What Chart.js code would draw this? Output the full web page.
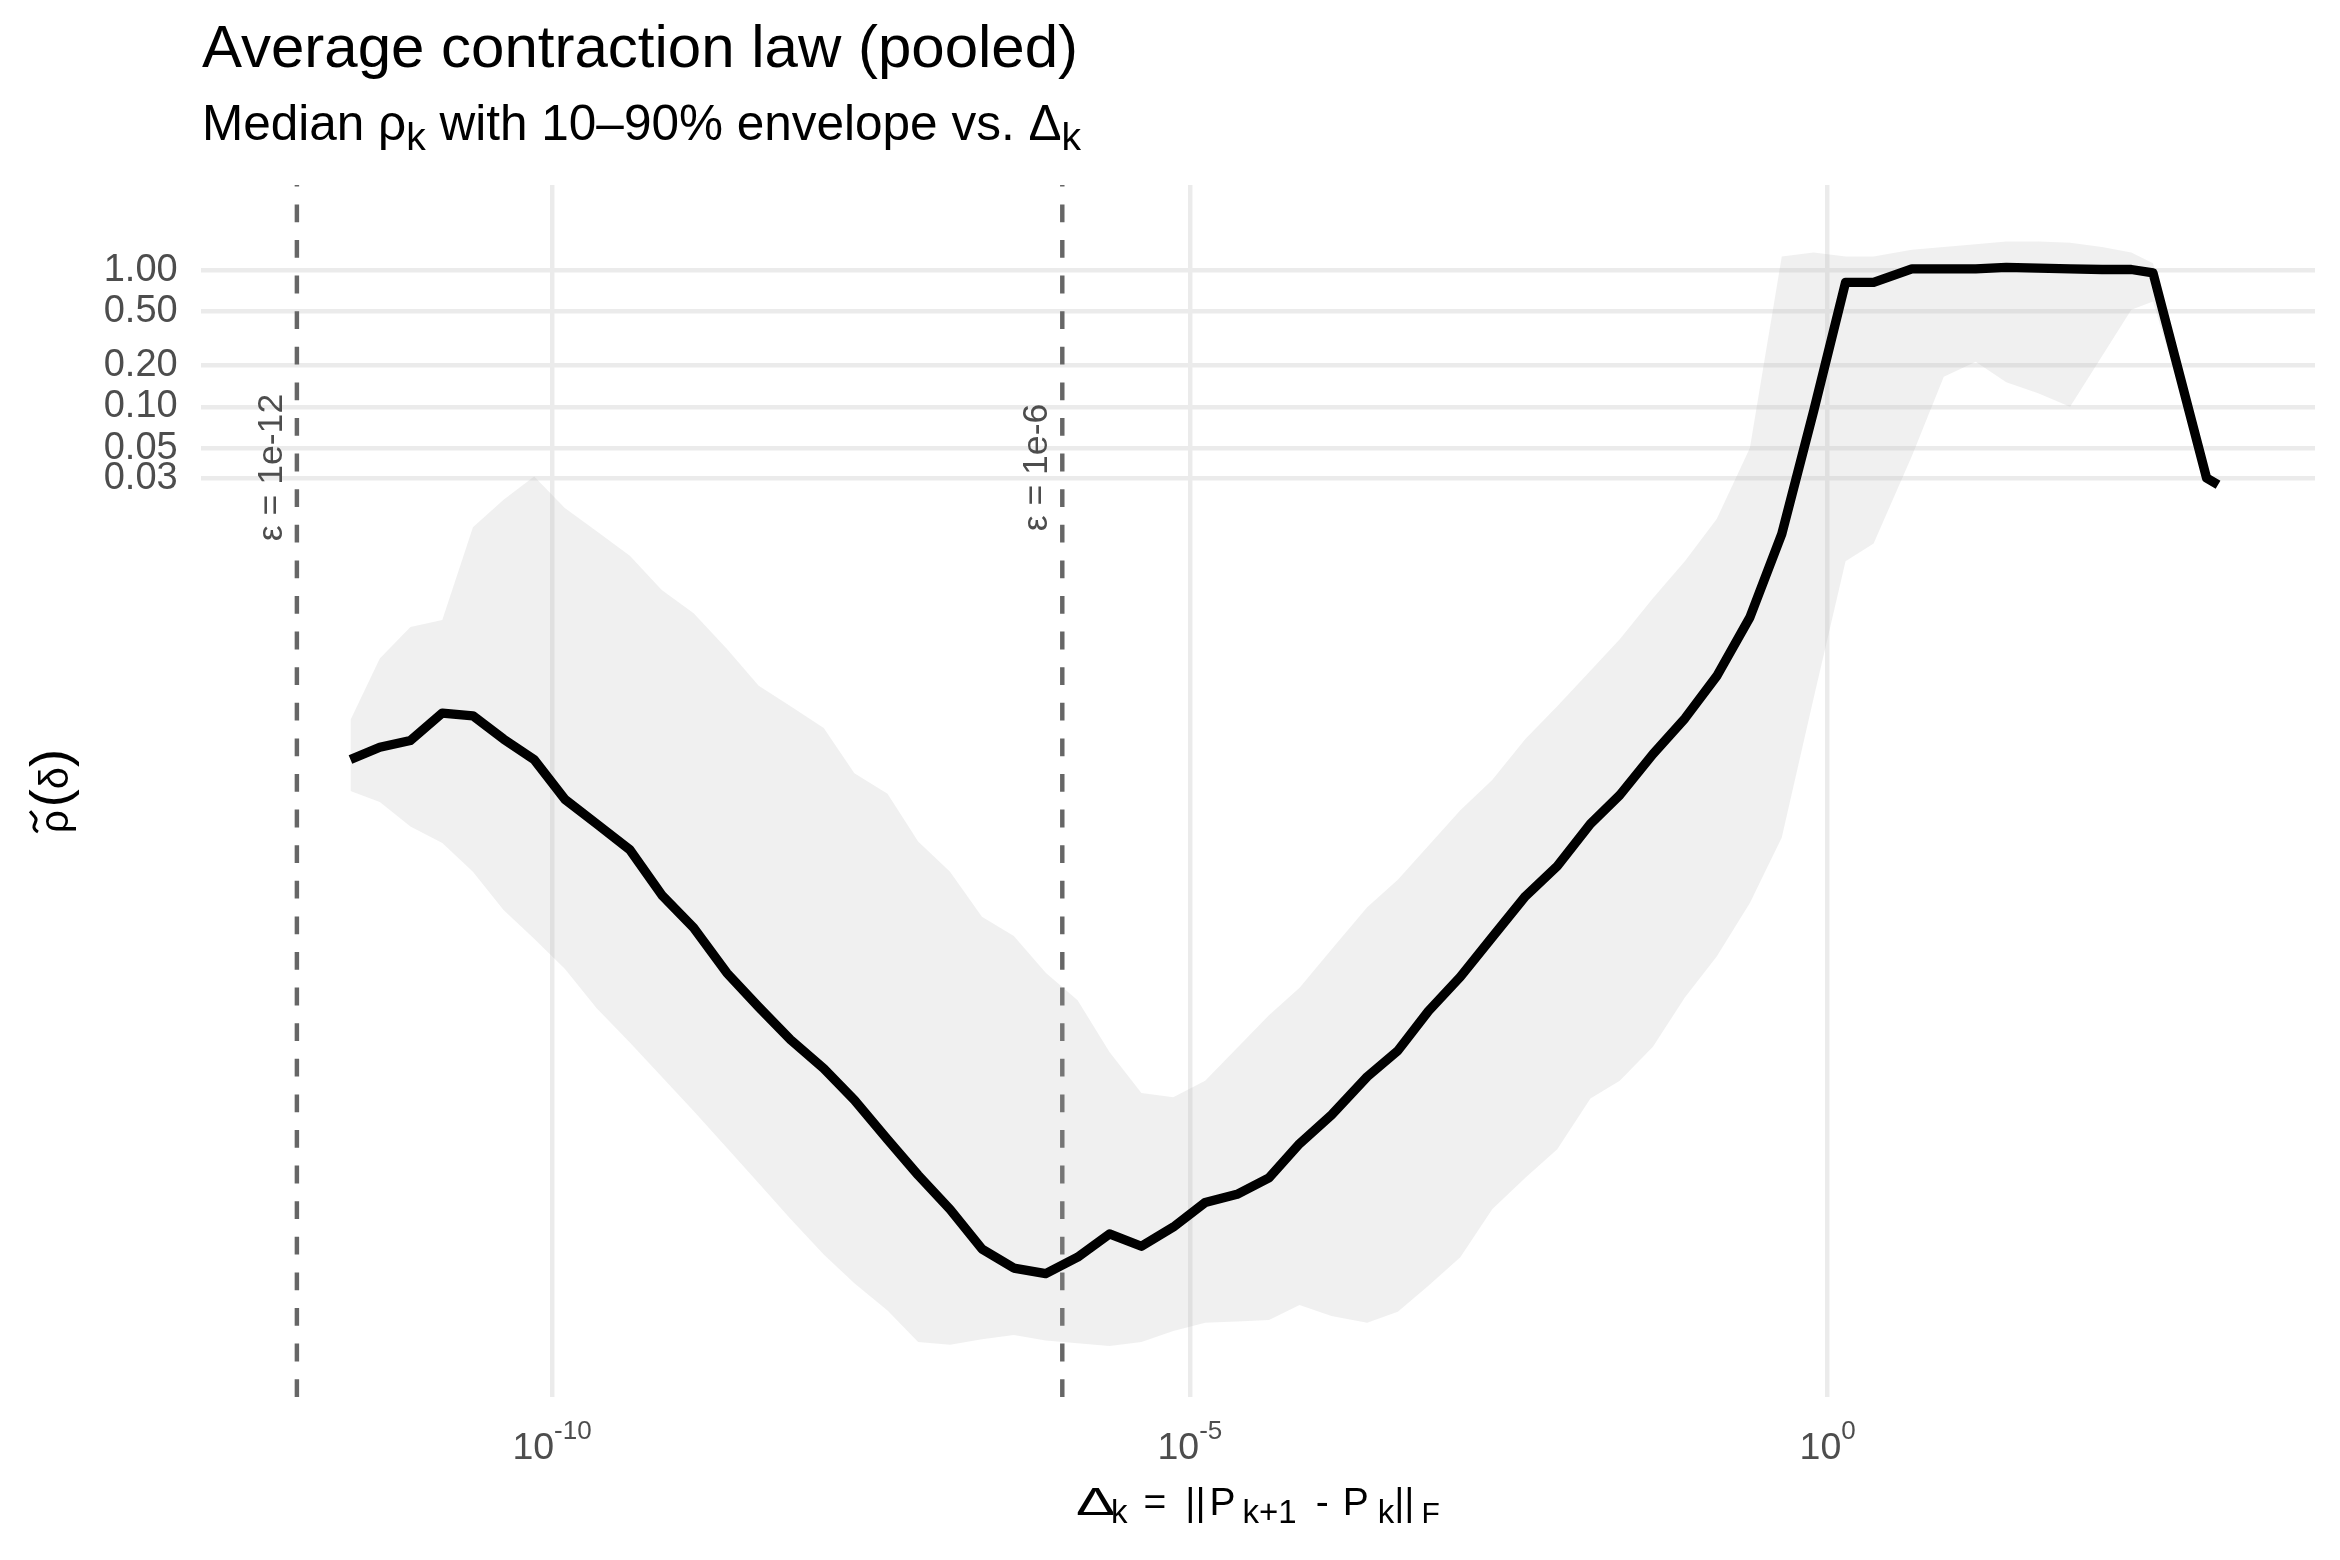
<!DOCTYPE html>
<html lang="en">
<head>
    <meta charset="UTF-8">
    <title>Average contraction law (pooled)</title>
    <script src="https://cdn.jsdelivr.net/npm/chart.js"></script>
    <style>
        html, body {
            margin: 0;
            padding: 0;
            background: #ffffff;
        }
        #wrap {
            width: 2340px;
            height: 1560px;
        }
    </style>
</head>
<body>
    <div id="wrap"><canvas id="contractionChart" width="2340" height="1560"></canvas></div>

    <script>
        // log10 of the Δk bin positions
        const deltaExp = [
            -11.58, -11.35, -11.11, -10.86, -10.62, -10.38, -10.14, -9.90, -9.65, -9.39,
            -9.14, -8.89, -8.63, -8.38, -8.13, -7.87, -7.63, -7.37, -7.13, -6.88,
            -6.63, -6.38, -6.13, -5.88, -5.63, -5.38, -5.13, -4.88, -4.63, -4.38,
            -4.14, -3.89, -3.61, -3.37, -3.13, -2.88, -2.63, -2.37, -2.12, -1.86,
            -1.63, -1.37, -1.12, -0.87, -0.61, -0.36, -0.11, 0.14, 0.36, 0.66,
            0.91, 1.16, 1.40, 1.65, 1.90, 2.15, 2.38, 2.55, 2.97, 3.06
        ];
        // log10 of median rho_k per bin
        const medianExp = [
            -3.58, -3.49, -3.44, -3.24, -3.26, -3.43, -3.58, -3.87, -4.05, -4.24,
            -4.57, -4.81, -5.14, -5.39, -5.63, -5.84, -6.07, -6.36, -6.62, -6.87,
            -7.16, -7.30, -7.34, -7.22, -7.05, -7.14, -7.00, -6.82, -6.76, -6.64,
            -6.39, -6.18, -5.90, -5.71, -5.42, -5.17, -4.88, -4.58, -4.36, -4.05,
            -3.84, -3.54, -3.28, -2.97, -2.54, -1.93, -1.03, -0.09, -0.09, 0.01,
            0.01, 0.01, 0.02, 0.015, 0.01, 0.005, 0.005, -0.02, -1.52, -1.57
        ];
        // log10 of the 90% quantile
        const upperExp = [
            -3.29, -2.84, -2.61, -2.56, -1.88, -1.68, -1.51, -1.74, -1.91, -2.09,
            -2.34, -2.51, -2.77, -3.04, -3.19, -3.35, -3.68, -3.83, -4.18, -4.40,
            -4.73, -4.87, -5.14, -5.34, -5.72, -6.02, -6.05, -5.93, -5.69, -5.45,
            -5.25, -4.97, -4.66, -4.46, -4.21, -3.95, -3.73, -3.43, -3.19, -2.93,
            -2.70, -2.40, -2.13, -1.82, -1.30, 0.10, 0.13, 0.10, 0.10, 0.15,
            0.17, 0.19, 0.21, 0.21, 0.20, 0.17, 0.13, 0.05, -1.52, -1.57
        ];
        // log10 of the 10% quantile
        const lowerExp = [
            -3.81, -3.89, -4.07, -4.19, -4.40, -4.68, -4.89, -5.11, -5.40, -5.65,
            -5.90, -6.15, -6.42, -6.68, -6.94, -7.20, -7.41, -7.61, -7.84, -7.86,
            -7.82, -7.79, -7.83, -7.85, -7.87, -7.84, -7.76, -7.70, -7.69, -7.68,
            -7.57, -7.65, -7.70, -7.62, -7.43, -7.22, -6.87, -6.64, -6.43, -6.06,
            -5.93, -5.68, -5.32, -5.02, -4.63, -4.15, -3.13, -2.13, -2.00, -1.36,
            -0.78, -0.67, -0.82, -0.90, -1.00, -0.63, -0.29, -0.23, -1.52, -1.57
        ];

        const xTickValues = [1e-10, 1e-5, 1];
        const xTickExps = ['-10', '-5', '0'];
        const yTickValues = [1, 0.5, 0.2, 0.1, 0.05, 0.03];
        const epsValues = [1e-12, 1e-6];
        const epsLabels = ['ε = 1e-12', 'ε = 1e-6'];
        const epsLabelY = 0.036;

        const FONT = '"Liberation Sans", Arial, sans-serif';
        Chart.defaults.font.family = FONT;

        const toPoints = ys => deltaExp.map((e, i) => ({ x: 10 ** e, y: 10 ** ys[i] }));

        // text made of pieces (subscripts, superscripts, stretched glyphs)
        function richWidth(ctx, parts) {
            let w = 0;
            parts.forEach(p => {
                ctx.font = p.size + 'px ' + FONT;
                w += (p.gap || 0) + ctx.measureText(p.text).width * (p.sx || 1);
            });
            return w;
        }

        function drawRich(ctx, parts, x, y, align) {
            let cx = align === 'center' ? x - richWidth(ctx, parts) / 2 : x;
            const spots = [];
            ctx.textAlign = 'left';
            ctx.textBaseline = 'alphabetic';
            parts.forEach(p => {
                ctx.font = p.size + 'px ' + FONT;
                cx += p.gap || 0;
                const w = ctx.measureText(p.text).width * (p.sx || 1);
                ctx.save();
                ctx.translate(cx, y + (p.dy || 0));
                ctx.scale(p.sx || 1, 1);
                ctx.fillText(p.text, 0, 0);
                ctx.restore();
                spots.push({ x: cx, w: w });
                cx += w;
            });
            return spots;
        }

        const decorations = {
            id: 'decorations',
            beforeDatasetsDraw(chart) {
                const ctx = chart.ctx;
                const area = chart.chartArea;
                const xs = chart.scales.x;
                const ys = chart.scales.y;
                ctx.save();
                // threshold lines
                ctx.strokeStyle = '#666666';
                ctx.lineWidth = 4.45;
                ctx.setLineDash([17.8, 17.8]);
                epsValues.forEach(v => {
                    const px = xs.getPixelForValue(v);
                    ctx.beginPath();
                    ctx.moveTo(px, area.bottom);
                    ctx.lineTo(px, area.top);
                    ctx.stroke();
                });
                ctx.setLineDash([]);
                // their labels
                ctx.fillStyle = '#4D4D4D';
                ctx.font = '35.6px ' + FONT;
                ctx.textAlign = 'center';
                ctx.textBaseline = 'alphabetic';
                epsValues.forEach((v, i) => {
                    ctx.save();
                    ctx.translate(xs.getPixelForValue(v) - 15, ys.getPixelForValue(epsLabelY));
                    ctx.rotate(-Math.PI / 2);
                    ctx.fillText(epsLabels[i], 0, 0);
                    ctx.restore();
                });
                ctx.restore();
            },
            afterDraw(chart) {
                const ctx = chart.ctx;
                const area = chart.chartArea;
                const xs = chart.scales.x;
                ctx.save();

                // title and subtitle
                ctx.fillStyle = '#000000';
                drawRich(ctx, [{ text: 'Average contraction law (pooled)', size: 60 }], 202, 67, 'left');
                drawRich(ctx, [
                    { text: 'Median ', size: 49.5 },
                    { text: 'ρ', size: 49.5 },
                    { text: 'k', size: 39, dy: 10 },
                    { text: ' with 10–90% envelope vs. ', size: 49.5 },
                    { text: 'Δ', size: 49.5 },
                    { text: 'k', size: 39, dy: 10 }
                ], 202, 140, 'left');

                // x tick labels as powers of ten
                ctx.fillStyle = '#4D4D4D';
                xTickValues.forEach((v, i) => {
                    drawRich(ctx, [
                        { text: '10', size: 37.5 },
                        { text: xTickExps[i], size: 26, dy: -20 }
                    ], xs.getPixelForValue(v), 1459, 'center');
                });

                // x axis title
                ctx.fillStyle = '#000000';
                drawRich(ctx, [
                    { text: 'Δ', size: 39, sx: 1.5 },
                    { text: 'k', size: 33, dy: 8, gap: -4 },
                    { text: '=', size: 39, gap: 16 },
                    { text: '||', size: 39, gap: 19 },
                    { text: 'P', size: 39, gap: 4 },
                    { text: 'k+1', size: 33, dy: 8, gap: 7 },
                    { text: '-', size: 39, gap: 19 },
                    { text: 'P', size: 39, gap: 14 },
                    { text: 'k', size: 33, dy: 8, gap: 9 },
                    { text: '||', size: 39 },
                    { text: 'F', size: 30, dy: 8, gap: 7 }
                ], (area.left + area.right) / 2, 1515, 'center');

                // y axis title, rotated
                ctx.save();
                ctx.translate(68, (area.top + area.bottom) / 2);
                ctx.rotate(-Math.PI / 2);
                const spots = drawRich(ctx, [
                    { text: 'ρ', size: 40 },
                    { text: '(', size: 54, gap: 3 },
                    { text: 'δ', size: 40 },
                    { text: ')', size: 54 }
                ], 0, 0, 'center');
                const r = spots[0];
                ctx.strokeStyle = '#000000';
                ctx.lineWidth = 3;
                ctx.beginPath();
                ctx.moveTo(r.x + 1, -30);
                ctx.bezierCurveTo(r.x + r.w * 0.3, -40, r.x + r.w * 0.5, -28, r.x + r.w * 0.7, -33);
                ctx.bezierCurveTo(r.x + r.w * 0.8, -35, r.x + r.w * 0.9, -37, r.x + r.w - 1, -38);
                ctx.stroke();
                ctx.restore();

                ctx.restore();
            }
        };

        const ctx = document.getElementById('contractionChart').getContext('2d');
        new Chart(ctx, {
            type: 'line',
            data: {
                datasets: [
                    {
                        label: 'Median',
                        data: toPoints(medianExp),
                        borderColor: '#000000',
                        borderWidth: 9.3,
                        borderJoinStyle: 'round',
                        borderCapStyle: 'butt',
                        pointRadius: 0,
                        fill: false,
                        tension: 0
                    },
                    {
                        label: '90%',
                        data: toPoints(upperExp),
                        borderColor: 'rgba(0,0,0,0)',
                        borderWidth: 0,
                        pointRadius: 0,
                        backgroundColor: 'rgba(179,179,179,0.2)',
                        fill: '+1',
                        tension: 0
                    },
                    {
                        label: '10%',
                        data: toPoints(lowerExp),
                        borderColor: 'rgba(0,0,0,0)',
                        borderWidth: 0,
                        pointRadius: 0,
                        fill: false,
                        tension: 0
                    }
                ]
            },
            options: {
                responsive: false,
                devicePixelRatio: 1,
                animation: false,
                events: [],
                layout: {
                    padding: { top: 185, right: 25, bottom: 0, left: 0 }
                },
                plugins: {
                    legend: { display: false },
                    tooltip: { enabled: false },
                    title: { display: false }
                },
                scales: {
                    x: {
                        type: 'logarithmic',
                        bounds: 'data',
                        min: 10 ** -12.754,
                        max: 10 ** 3.82,
                        grid: { color: '#EBEBEB', lineWidth: 4.45, drawTicks: false },
                        border: { display: false },
                        ticks: { display: false },
                        afterBuildTicks: s => { s.ticks = xTickValues.map(v => ({ value: v })); },
                        afterFit: s => { s.height = 163; }
                    },
                    y: {
                        type: 'logarithmic',
                        bounds: 'data',
                        min: 10 ** -8.243,
                        max: 10 ** 0.623,
                        grid: { color: '#EBEBEB', lineWidth: 4.45, drawTicks: false },
                        border: { display: false },
                        ticks: {
                            autoSkip: false,
                            padding: 23,
                            color: '#4D4D4D',
                            font: { family: 'Liberation Sans', size: 38 },
                            callback: v => Number(v).toFixed(2)
                        },
                        afterBuildTicks: s => { s.ticks = yTickValues.map(v => ({ value: v })); },
                        afterFit: s => { s.width = 200.7; }
                    }
                }
            },
            plugins: [decorations]
        });
    </script>
</body>
</html>
